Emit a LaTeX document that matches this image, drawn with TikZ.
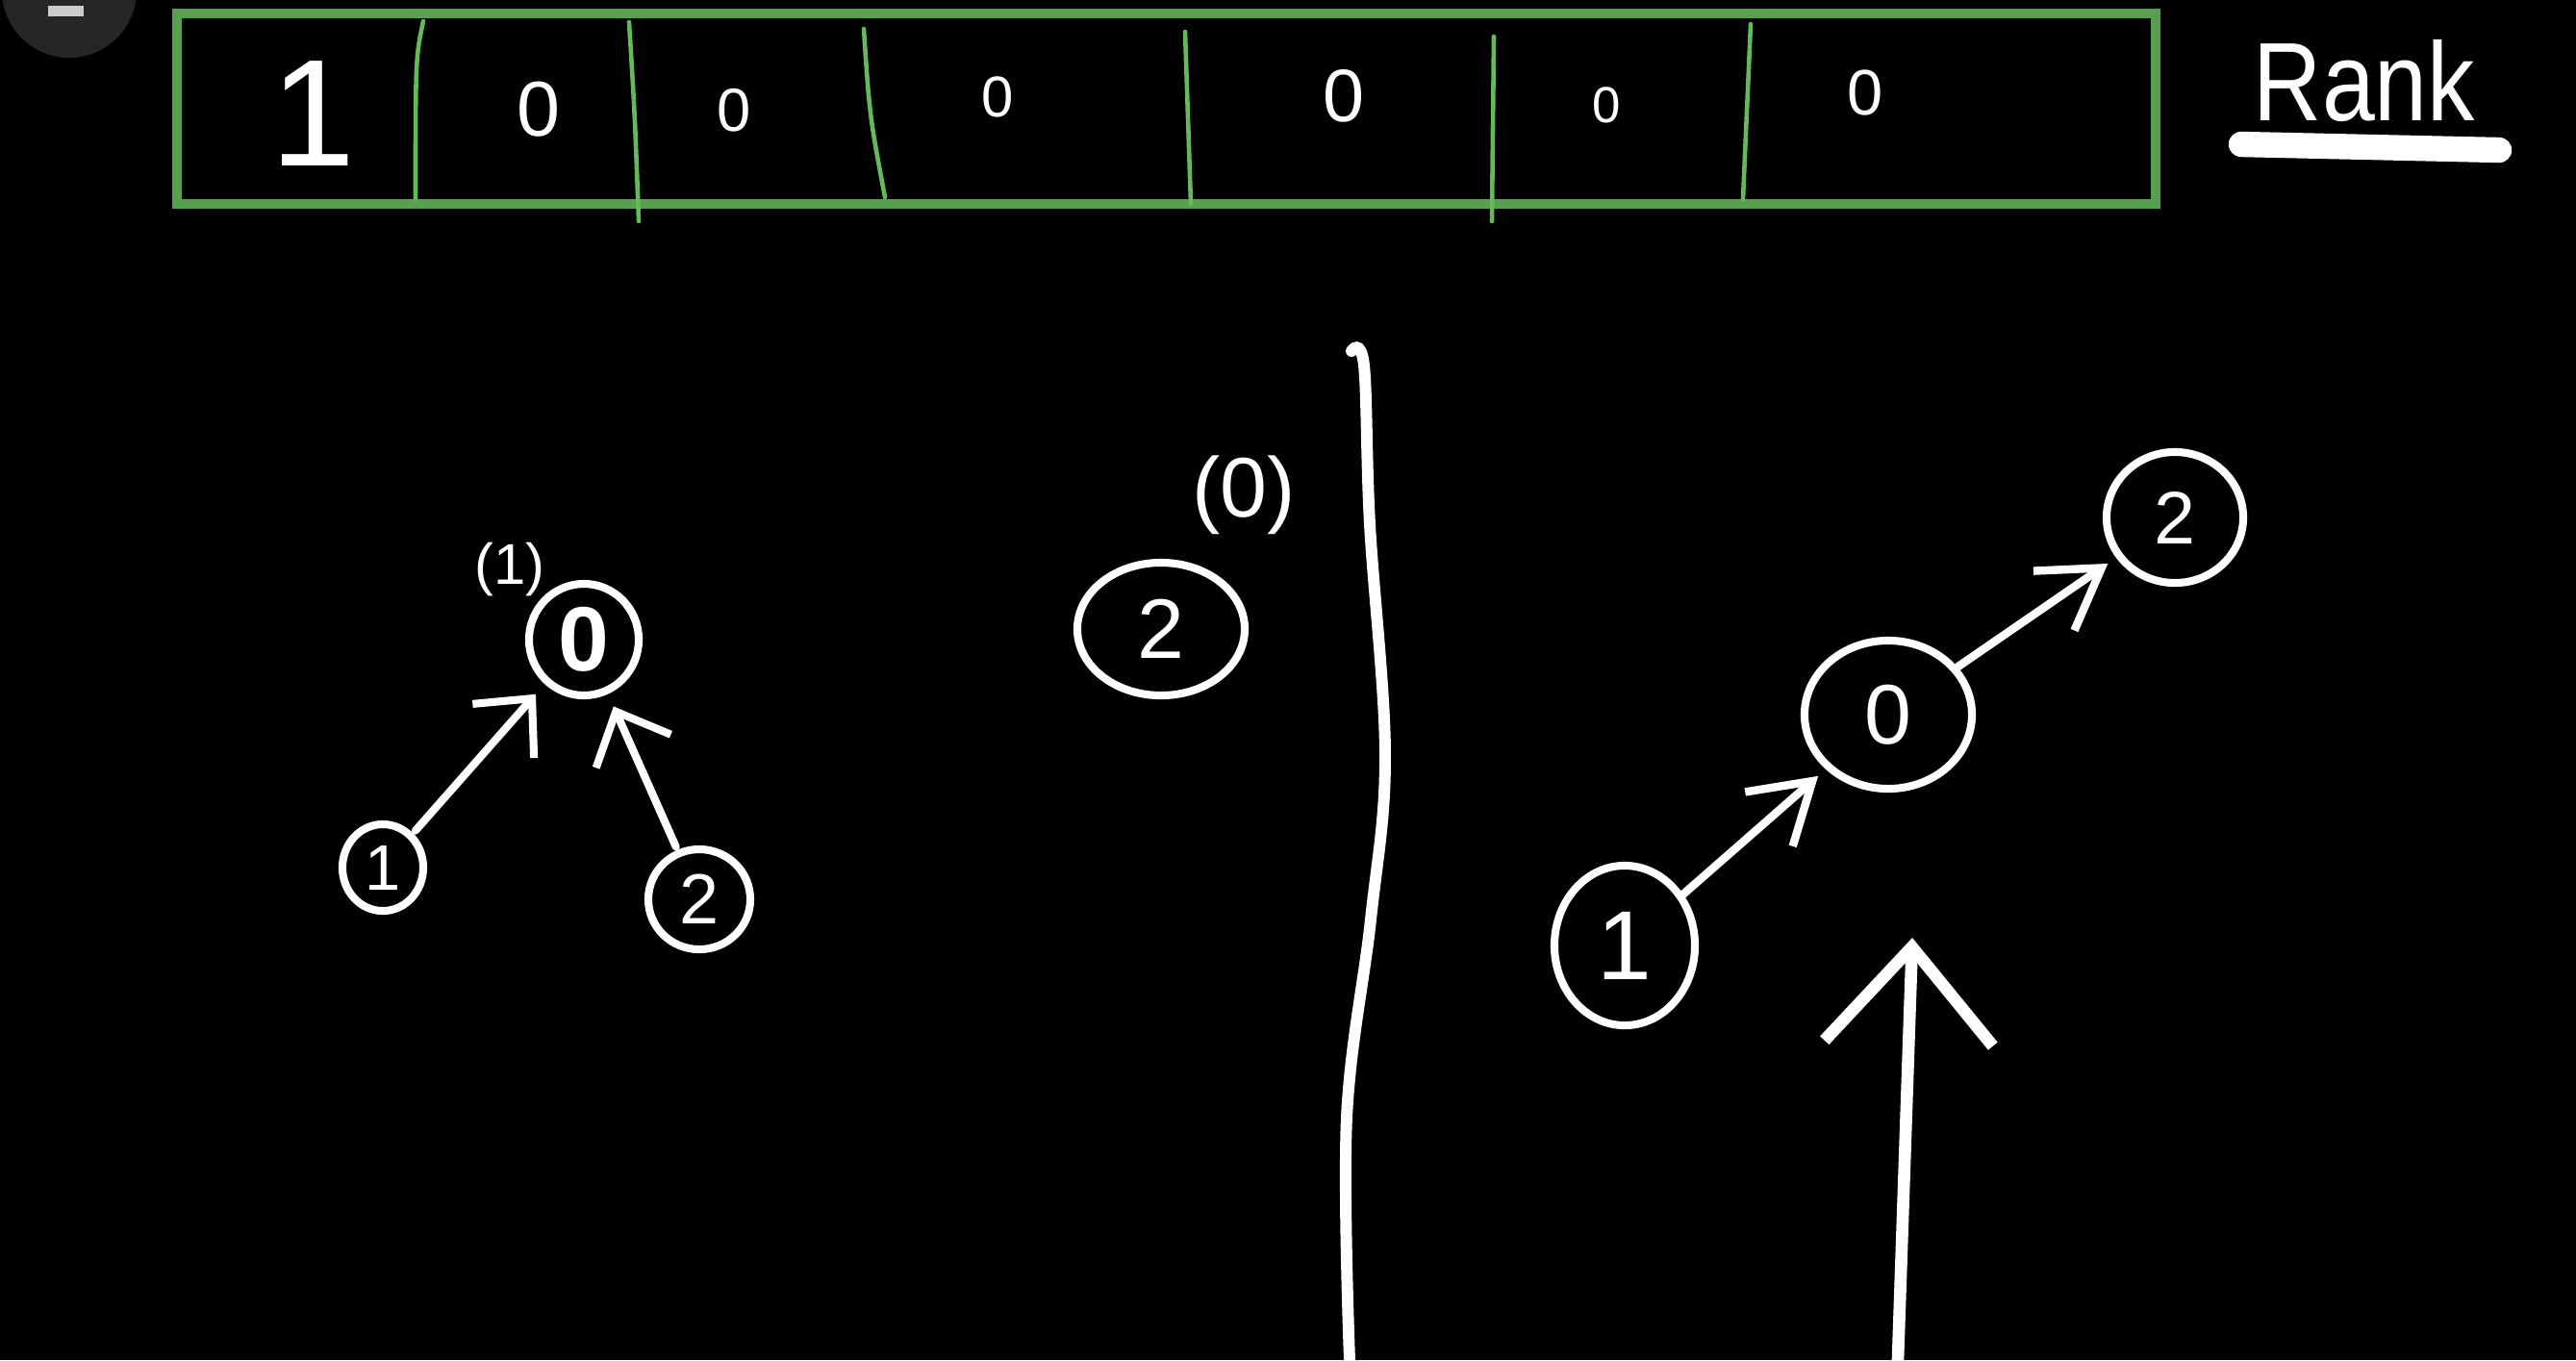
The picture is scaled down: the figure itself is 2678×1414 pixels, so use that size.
\documentclass[tikz,border=0pt]{standalone}
\usepackage{fontspec}
\setmainfont{Liberation Sans}
\usetikzlibrary{shapes.geometric,arrows.meta}
\definecolor{boxgreen}{RGB}{88,160,80}
\definecolor{divgreen}{RGB}{100,185,90}
\definecolor{uigrey}{RGB}{38,38,38}
\tikzset{
  nd/.style={draw=white, line width=2.3pt, ellipse, inner sep=0pt, text=white},
  lbl/.style={text=white, inner sep=0pt},
  arrl/.style={draw=white, line width=2.3pt, line cap=round, -{Straight Barb[length=4.5mm, width=8.5mm]}, shorten >=4pt, shorten <=1pt},
  arrr/.style={draw=white, line width=2.4pt, line cap=round, -{Straight Barb[length=6mm, width=7.5mm]}, shorten >=3pt, shorten <=0pt},
  divider/.style={draw=divgreen, line width=1.3pt, line cap=round},
  fs/.style={font=\fontsize{#1}{#1}\selectfont}
}
\begin{document}
\begin{tikzpicture}[x=0.01cm, y=-0.01cm]
\useasboundingbox (0,0) rectangle (2678,1414);
\fill[black] (0,0) rectangle (2678,1414);
\begin{scope}
\clip (0,0) rectangle (2678,1414);
\fill[uigrey] (72,-10) circle (70);
\fill[black!20!white] (50,6) rectangle (87,17);
\end{scope}

% rank strip
\draw[boxgreen, line width=2.9pt] (184,14) rectangle (2241,212);
\draw[divider] (440,22) .. controls (432,60) .. (432,207);
\draw[divider] (654,23) .. controls (660,120) .. (664,230);
\draw[divider] (898,30) .. controls (904,120) .. (920,205);
\draw[divider] (1232,33) -- (1238,212);
\draw[divider] (1553,38) -- (1551,230);
\draw[divider] (1820,25) -- (1812,207);
\node[lbl, fs=45pt] (r1) at (326,118) {1};
\node[lbl, fs=23pt] (r2) at (560,114) {0};
\node[lbl, fs=18pt] (r3) at (763,115) {0};
\node[lbl, fs=17pt] (r4) at (1037,101) {0};
\node[lbl, fs=22pt] (r5) at (1397,100) {0};
\node[lbl, fs=15pt] (r6) at (1670,109) {0};
\node[lbl, fs=19pt] (r7) at (1939,96) {0};

% Rank label
\node[lbl, fs=33pt, xscale=0.85] (rank) at (2458,84) {Rank};
\coordinate (ul1) at (2330,150);
\coordinate (ul2) at (2598,156);
\draw[white, line width=7.5pt, line cap=round] (ul1) -- (ul2);

% left tree
\node[nd, minimum width=1.14cm, minimum height=1.16cm, fs=27pt] (a0) at (607,665) {\bfseries 0};
\node[nd, minimum width=0.84cm, minimum height=0.90cm, fs=19pt] (a1) at (398,902) {1};
\node[nd, minimum width=1.06cm, minimum height=1.04cm, fs=21pt] (a2) at (727,935) {2};
\node[lbl, fs=17pt] (a0r) at (530,592) {(1)};
\draw[arrl] (a1) -- (a0);
\draw[arrl] (a2) -- (a0);

% middle lone node
\node[nd, minimum width=1.74cm, minimum height=1.38cm, fs=25pt] (m2) at (1207,654) {2};
\node[lbl, fs=25pt] (m2r) at (1293,515) {(0)};

% vertical separator
\draw[white, line width=3.4pt, line cap=round]
  plot[smooth, tension=0.6] coordinates {(1405,365) (1418,380) (1424,545) (1440,785) (1425,956) (1400,1162) (1403,1414)};

% right tree
\node[nd, minimum width=1.46cm, minimum height=1.66cm, fs=29pt] (b1) at (1689,983) {1};
\node[nd, minimum width=1.74cm, minimum height=1.54cm, fs=25pt] (b0) at (1963,743) {0};
\node[nd, minimum width=1.42cm, minimum height=1.36cm, fs=22pt] (b2) at (2261,538) {2};
\draw[arrr] (b1) -- (b0);
\draw[arrr] (b0) -- (b2);

% big up arrow
\coordinate (upb) at (1973,1414);
\coordinate (upt) at (1988,975);
\draw[white, line width=3.6pt, line cap=round, -{Straight Barb[length=1cm, width=1.75cm]}] (upb) -- (upt);
\end{tikzpicture}
\end{document}
